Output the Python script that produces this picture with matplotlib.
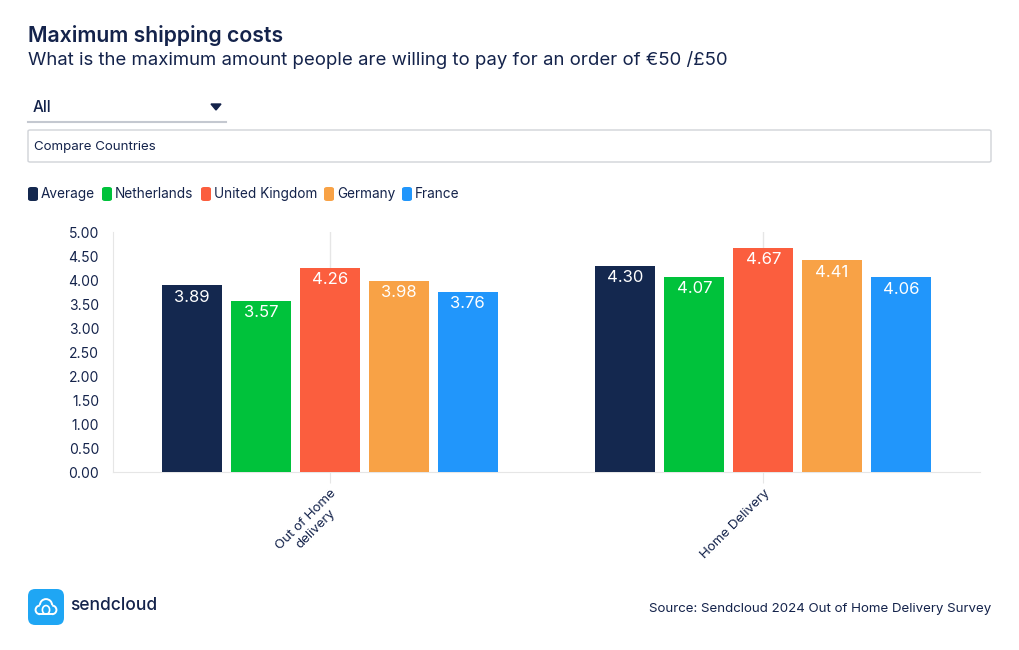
import matplotlib.pyplot as plt
import numpy as np
from matplotlib.patches import FancyBboxPatch, Polygon, Arc

plt.rcParams['font.family'] = ['Inter', 'DejaVu Sans']

# data
categories = ['Out of Home\ndelivery', 'Home Delivery']
series_names = ['Average', 'Netherlands', 'United Kingdom', 'Germany', 'France']
average = [3.89, 4.30]
netherlands = [3.57, 4.07]
united_kingdom = [4.26, 4.67]
germany = [3.98, 4.41]
france = [3.76, 4.06]
colors = ['#14284f', '#00c23b', '#fb5e3e', '#f8a246', '#2196fb']
y_ticks = [0, 0.5, 1, 1.5, 2, 2.5, 3, 3.5, 4, 4.5, 5]

navy = '#14234b'
series = [average, netherlands, united_kingdom, germany, france]

fig = plt.figure(figsize=(10.2, 6.5), dpi=100)
fig.patch.set_facecolor('white')

# header texts
fig.text(28 / 1020, 1 - 35 / 650, 'Maximum shipping costs', fontsize=15.3,
         fontweight='semibold', color=navy, va='center', ha='left')
fig.text(28 / 1020, 1 - 60 / 650,
         'What is the maximum amount people are willing to pay for an order of €50 /£50',
         fontsize=13.4, color=navy, va='center', ha='left')

# dropdown "All"
fig.text(33 / 1020, 1 - 107 / 650, 'All', fontsize=11, color=navy,
         va='center', ha='left', fontweight='medium')
fig.patches.append(Polygon([[211 / 1020, 1 - 104 / 650], [221 / 1020, 1 - 104 / 650],
                            [216 / 1020, 1 - 110 / 650]], closed=True,
                           transform=fig.transFigure, color=navy))
fig.add_artist(plt.Line2D([28 / 1020, 226 / 1020], [1 - 121.5 / 650, 1 - 121.5 / 650],
                          transform=fig.transFigure, color='#c4c8d0', lw=1.5))

# "Compare Countries" box
fig.patches.append(FancyBboxPatch((28 / 1020, 1 - 162 / 650), 963 / 1020, 32 / 650,
                                  boxstyle='round,pad=0,rounding_size=0.002',
                                  transform=fig.transFigure, facecolor='white',
                                  edgecolor='#d0d3d8', lw=1))
fig.text(34 / 1020, 1 - 147 / 650, 'Compare Countries', fontsize=9.6, color=navy,
         va='center', ha='left')

# legend
legend_x = [28, 102, 201, 324, 402]
for lx, name, col in zip(legend_x, series_names, colors):
    fig.patches.append(FancyBboxPatch((lx / 1020, 1 - 201 / 650), 10 / 1020, 14 / 650,
                                      boxstyle='round,pad=0,rounding_size=0.003',
                                      transform=fig.transFigure, facecolor=col,
                                      edgecolor='none'))
    fig.text((lx + 13) / 1020, 1 - 194 / 650, name, fontsize=9.8, color=navy,
             va='center', ha='left')

# main chart
ax = fig.add_axes([113 / 1020, 1 - 472 / 650, 867 / 1020, 240 / 650])
x = np.arange(len(categories))
width = 0.138
step = 0.159
for i, (vals, col) in enumerate(zip(series, colors)):
    pos = x + (i - 2) * step
    ax.bar(pos, vals, width=width, color=col, zorder=3)
    for px, v in zip(pos, vals):
        ax.text(px, v - 0.25, f'{v:.2f}', ha='center', va='center',
                color='white', fontsize=12, zorder=4)

ax.set_xlim(-0.5, 1.5)
ax.set_ylim(0, 5)
ax.set_yticks(y_ticks)
ax.set_yticklabels([f'{t:.2f}' for t in y_ticks])
ax.set_xticks(x)
ax.set_xticklabels(categories, rotation=45, ha='right', va='top',
                   rotation_mode='anchor', multialignment='center')
ax.tick_params(axis='y', length=0, pad=10, labelsize=10, labelcolor=navy)
ax.tick_params(axis='x', length=8, color='#e6e6e6', pad=3, labelsize=9.6, labelcolor=navy)
ax.grid(axis='x', color='#e6e6e6', lw=1, zorder=0)
for side in ['top', 'right']:
    ax.spines[side].set_visible(False)
for side in ['left', 'bottom']:
    ax.spines[side].set_color('#e6e6e6')

# footer: logo and source
logo = fig.add_axes([28 / 1020, 1 - 625 / 650, 36 / 1020, 36 / 650])
logo.set_xlim(0, 1)
logo.set_ylim(0, 1)
logo.axis('off')
logo.add_patch(FancyBboxPatch((0, 0), 1, 1, boxstyle='round,pad=0,rounding_size=0.2',
                              facecolor='#1fa6f4', edgecolor='none'))
logo.add_patch(Arc((0.5, 0.55), 0.34, 0.34, theta1=0, theta2=180, color='white', lw=1.4))
logo.add_patch(Arc((0.33, 0.42), 0.24, 0.24, theta1=90, theta2=270, color='white', lw=1.4))
logo.add_patch(Arc((0.67, 0.42), 0.24, 0.24, theta1=-90, theta2=90, color='white', lw=1.4))
logo.plot([0.33, 0.67], [0.30, 0.30], color='white', lw=1.4)
logo.add_patch(Arc((0.5, 0.42), 0.2, 0.24, theta1=0, theta2=360, color='white', lw=1.2))
fig.text(70 / 1020, 1 - 605 / 650, 'sendcloud', fontsize=12.5, color=navy,
         va='center', ha='left', fontweight='medium')
fig.text(991 / 1020, 1 - 609 / 650, 'Source: Sendcloud 2024 Out of Home Delivery Survey',
         fontsize=9.6, color=navy, va='center', ha='right')

fig.savefig('out.png', dpi=100, facecolor='white')
